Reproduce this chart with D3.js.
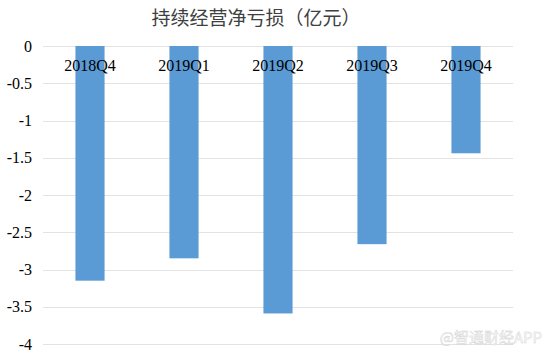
<!DOCTYPE html>
<html>
<head>
<meta charset="utf-8">
<script src="https://cdn.jsdelivr.net/npm/d3@7"></script>
<style>
body { margin:0; background:#fff; }
.serif text { font-family: 'Liberation Serif', 'Times New Roman', serif; }
</style>
</head>
<body>
<div id="chart-area"></div>
<script>
// data
var quarters = ["2018Q4", "2019Q1", "2019Q2", "2019Q3", "2019Q4"];
var losses = [-3.15, -2.85, -3.59, -2.66, -1.44];
var yTicks = [0, -0.5, -1, -1.5, -2, -2.5, -3, -3.5, -4];

var W = 554, H = 355;
var margin = {top: 46, left: 43, right: 41, bottom: 11};
var width = W - margin.left - margin.right;
var height = H - margin.top - margin.bottom;

var svg = d3.select("#chart-area").append("svg")
    .attr("width", W)
    .attr("height", H);

svg.append("text")
    .attr("x", 256)
    .attr("y", 25)
    .attr("text-anchor", "middle")
    .attr("font-family", "'Noto Sans CJK SC', sans-serif")
    .attr("font-size", "19px")
    .attr("fill", "#404040")
    .text("持续经营净亏损（亿元）");

var g = svg.append("g")
    .attr("transform", "translate(" + margin.left + "," + margin.top + ")");

var x = d3.scaleBand()
    .domain(quarters)
    .range([0, width])
    .paddingInner(0.69)
    .paddingOuter(0.345);

var y = d3.scaleLinear()
    .domain([0, -4])
    .range([0, height]);

// gridlines
g.append("g").selectAll("line")
    .data(yTicks)
    .enter().append("line")
    .attr("x1", 0)
    .attr("x2", width)
    .attr("y1", function(d){ return Math.round(y(d)) + 0.5; })
    .attr("y2", function(d){ return Math.round(y(d)) + 0.5; })
    .attr("stroke", "#e3e3e3")
    .attr("stroke-width", 1);

// bars
g.selectAll("rect")
    .data(losses)
    .enter().append("rect")
    .attr("x", function(d, i){ return x(quarters[i]); })
    .attr("y", y(0))
    .attr("width", x.bandwidth())
    .attr("height", function(d){ return y(d) - y(0); })
    .attr("fill", "#5b9bd5");

// y axis
var leftAxis = d3.axisLeft(y)
    .tickValues(yTicks)
    .tickSize(0)
    .tickPadding(11)
    .tickFormat(function(d){ return d; });

var yAxisGroup = g.append("g")
    .attr("class", "serif")
    .call(leftAxis);
yAxisGroup.select(".domain").remove();
yAxisGroup.selectAll("text")
    .attr("font-size", "16px")
    .attr("fill", "#000");

// category labels
var bottomAxis = d3.axisTop(x).tickSize(0).tickPadding(0);
var xAxisGroup = g.append("g")
    .attr("class", "serif")
    .attr("transform", "translate(0," + (y(0) + 25) + ")")
    .call(bottomAxis);
xAxisGroup.select(".domain").remove();
xAxisGroup.selectAll("text")
    .attr("font-size", "16px")
    .attr("fill", "#000");

// watermark
svg.append("text")
    .attr("x", 542)
    .attr("y", 343)
    .attr("text-anchor", "end")
    .attr("font-family", "'Noto Sans CJK SC', sans-serif")
    .attr("font-size", "15px")
    .attr("fill", "#fbfbfb")
    .attr("stroke", "#cfcfcf")
    .attr("stroke-width", 0.4)
    .text("@智通财经APP");
</script>
</body>
</html>
